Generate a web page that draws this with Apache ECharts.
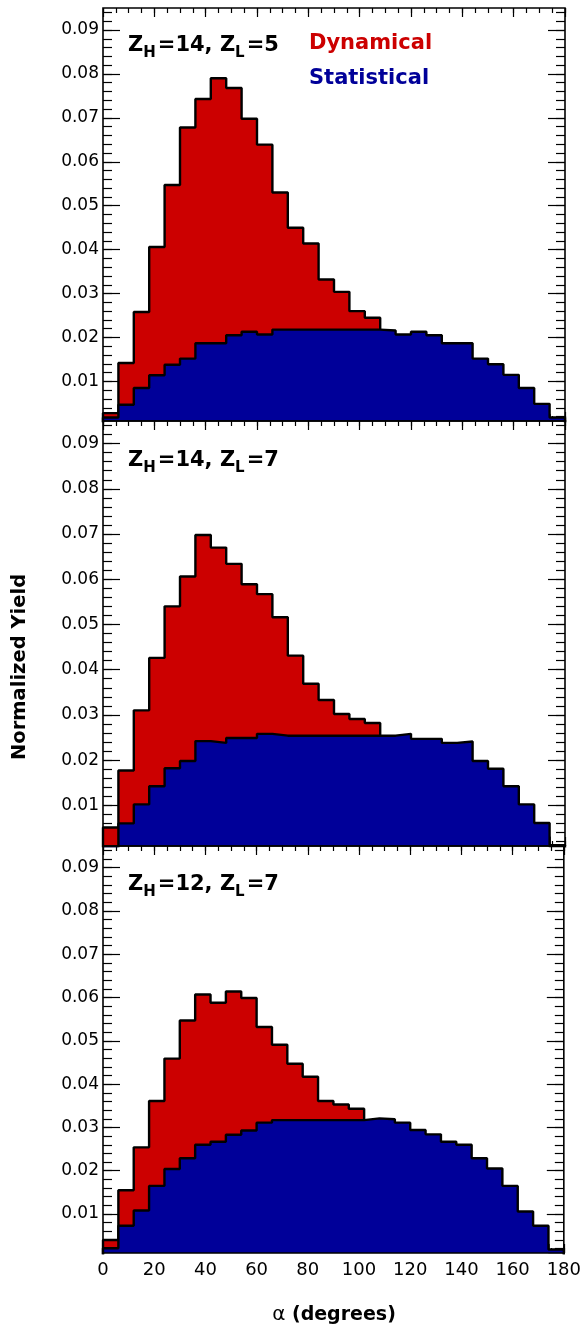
<!DOCTYPE html>
<html>
<head>
<meta charset="utf-8">
<script src="https://cdn.jsdelivr.net/npm/echarts@6/dist/echarts.min.js"></script>
<style>
html,body{margin:0;padding:0;background:#fff;}
#c{width:584px;height:1330px;}
</style>
</head>
<body>
<div id="c"></div>
<script>
// ---- data (6-degree bins, lower edges) ----
const binEdges = [0,6,12,18,24,30,36,42,48,54,60,66,72,78,84,90,96,102,108,114,120,126,132,138,144,150,156,162,168,174];
const xMax = 180;
const yMin = 0.001, yMax = 0.095;
const xMajor = [0,20,40,60,80,100,120,140,160,180];
const yMajor = [0.01,0.02,0.03,0.04,0.05,0.06,0.07,0.08,0.09];
const yLabels = ['0.01','0.02','0.03','0.04','0.05','0.06','0.07','0.08','0.09'];

const panelTitles = [['14','5'],['14','7'],['12','7']];

// Panel 1: Z_H=14, Z_L=5
const dyn1  = [0.0028,0.0142,0.0258,0.0406,0.0547,0.0678,0.0743,0.0790,0.0768,0.0698,0.0639,0.0530,0.0450,0.0414,0.0332,0.0304,0.0260,0.0245,0.0195,0.0170,0.0150,0.0130,0.0110,0.0090,0.0075,0.0060,0.0045,0.0035,0.0025,0.0012];
const stat1 = [0.0018,0.0047,0.0085,0.0114,0.0138,0.0152,0.0187,0.0187,0.0205,0.0213,0.0207,0.0218,0.0218,0.0218,0.0218,0.0218,0.0218,0.0218,0.0216,0.0207,0.0213,0.0205,0.0187,0.0187,0.0152,0.0139,0.0115,0.0085,0.0049,0.0018];
// Panel 2: Z_H=14, Z_L=7
const dyn2  = [0.0051,0.0177,0.0310,0.0426,0.0540,0.0606,0.0698,0.0670,0.0634,0.0589,0.0567,0.0516,0.0431,0.0369,0.0333,0.0302,0.0291,0.0282,0.0240,0.0210,0.0190,0.0170,0.0150,0.0130,0.0110,0.0090,0.0070,0.0050,0.0030,0.0008];
const stat2 = [0.0005,0.0060,0.0102,0.0142,0.0182,0.0198,0.0242,0.0238,0.0249,0.0249,0.0258,0.0254,0.0254,0.0254,0.0254,0.0254,0.0254,0.0254,0.0254,0.0258,0.0247,0.0247,0.0238,0.0241,0.0198,0.0181,0.0142,0.0102,0.0061,0.0012];
// Panel 3: Z_H=12, Z_L=7
const dyn3  = [0.0040,0.0155,0.0254,0.0361,0.0459,0.0547,0.0607,0.0588,0.0614,0.0599,0.0532,0.0491,0.0447,0.0417,0.0361,0.0353,0.0343,0.0300,0.0280,0.0260,0.0230,0.0210,0.0180,0.0160,0.0130,0.0110,0.0080,0.0050,0.0030,0.0012];
const stat3 = [0.0021,0.0073,0.0108,0.0165,0.0204,0.0229,0.0260,0.0267,0.0283,0.0293,0.0311,0.0317,0.0317,0.0317,0.0317,0.0317,0.0317,0.0321,0.0319,0.0311,0.0294,0.0284,0.0267,0.0260,0.0229,0.0205,0.0165,0.0106,0.0073,0.0018];

const dynSets = [dyn1, dyn2, dyn3];
const statSets = [stat1, stat2, stat3];

// ---- styling ----
const F = 'DejaVu Sans';
const RED = '#cc0000', BLUE = '#000099';
const grids = [
  {left:103, width:462, top:8, height:413},
  {left:103, width:462, top:421, height:425},
  {left:103, width:462, top:846, height:407}
];

const xMinor = []; for (let v = 0; v <= xMax; v += 5) xMinor.push(v);
const yMinor = []; for (let k = 1; k <= 47; k++) yMinor.push(+(k*0.002).toFixed(3));

function histPoints(vals){
  const pts = [[0, 0]];
  vals.forEach((v,i)=>pts.push([binEdges[i], v]));
  pts.push([xMax, vals[vals.length-1]]);
  pts.push([xMax, 0]);
  return pts;
}

const tickLine = {color:'#000', width:1.2};
const xAxes = [], yAxes = [], series = [];
grids.forEach((g, gi) => {
  const base = {gridIndex:gi, type:'value', min:0, max:xMax, splitLine:{show:false}, axisLine:{show:false, onZero:false}};
  xAxes.push(Object.assign({}, base, {position:'bottom',
    axisTick:{show:true, inside:true, length:9, customValues:xMajor, lineStyle:tickLine},
    axisLabel:{show: gi===2, customValues:xMajor, margin:8, fontSize:18, fontFamily:F, color:'#000', showMinLabel:true, showMaxLabel:true}}));
  xAxes.push(Object.assign({}, base, {position:'bottom',
    axisTick:{show:true, inside:true, length:5, customValues:xMinor, lineStyle:tickLine}, axisLabel:{show:false}}));
  xAxes.push(Object.assign({}, base, {position:'top',
    axisTick:{show:true, inside:true, length:9, customValues:xMajor, lineStyle:tickLine}, axisLabel:{show:false}}));
  xAxes.push(Object.assign({}, base, {position:'top',
    axisTick:{show:true, inside:true, length:5, customValues:xMinor, lineStyle:tickLine}, axisLabel:{show:false}}));

  const ybase = {gridIndex:gi, type:'value', min:yMin, max:yMax, splitLine:{show:false}, axisLine:{show:false, onZero:false}};
  yAxes.push(Object.assign({}, ybase, {position:'left',
    axisTick:{show:true, inside:true, length:17, customValues:yMajor, lineStyle:tickLine},
    axisLabel:{show:true, customValues:yMajor, margin:4, fontSize:17, fontFamily:F, color:'#000', padding:[3,0,0,0],
      formatter:(v)=>{ const i = yMajor.findIndex(m=>Math.abs(m-v)<1e-9); return i>=0 ? yLabels[i] : ''; }}}));
  yAxes.push(Object.assign({}, ybase, {position:'left',
    axisTick:{show:true, inside:true, length:9, customValues:yMinor, lineStyle:tickLine}, axisLabel:{show:false}}));
  yAxes.push(Object.assign({}, ybase, {position:'right',
    axisTick:{show:true, inside:true, length:17, customValues:yMajor, lineStyle:tickLine}, axisLabel:{show:false}}));
  yAxes.push(Object.assign({}, ybase, {position:'right',
    axisTick:{show:true, inside:true, length:9, customValues:yMinor, lineStyle:tickLine}, axisLabel:{show:false}}));

  series.push({type:'line', name:'Dynamical', xAxisIndex:gi*4, yAxisIndex:gi*4, step:'end', showSymbol:false, symbol:'none',
    data:histPoints(dynSets[gi]), lineStyle:{color:'#000', width:2.4}, areaStyle:{color:RED, opacity:1, origin:'start'}, z:2, clip:true, animation:false});
  series.push({type:'line', name:'Statistical', xAxisIndex:gi*4, yAxisIndex:gi*4, step:'end', showSymbol:false, symbol:'none',
    data:histPoints(statSets[gi]), lineStyle:{color:'#000', width:2.4}, areaStyle:{color:BLUE, opacity:1, origin:'start'}, z:3, clip:true, animation:false});
});

const gridOpts = grids.map(g => Object.assign({}, g, {show:true, borderColor:'#000', borderWidth:1.6, backgroundColor:'transparent', z:10, containLabel:false}));

const richMain = {fontSize:21, fontWeight:'bold', fontFamily:F, fill:'#000', lineHeight:30, verticalAlign:'middle'};
const richSub = {fontSize:15, fontWeight:'bold', fontFamily:F, fill:'#000', lineHeight:10, verticalAlign:'bottom', padding:[0,2,0,0]};
const titleTops = [35, 450, 874];
const graphics = [];
panelTitles.forEach((t, i) => {
  graphics.push({type:'text', left:128, top:titleTops[i], z:20,
    style:{text:'{m|Z}{s|H}{m|=' + t[0] + ', Z}{s|L}{m|=' + t[1] + '}', rich:{m:richMain, s:richSub}}});
});
graphics.push({type:'text', left:309, top:33, z:20, style:{text:'Dynamical', fontSize:21, fontWeight:'bold', fontFamily:F, fill:RED}});
graphics.push({type:'text', left:309, top:68, z:20, style:{text:'Statistical', fontSize:21, fontWeight:'bold', fontFamily:F, fill:BLUE}});
graphics.push({type:'text', x:20, y:667, rotation:Math.PI/2, z:20,
  style:{text:'Normalized Yield', fontSize:19.5, fontWeight:'bold', fontFamily:F, fill:'#000', align:'center', verticalAlign:'middle'}});
graphics.push({type:'text', x:334, y:1315, z:20,
  style:{text:'{a|α}{b| (degrees)}', align:'center', verticalAlign:'middle',
    rich:{a:{fontSize:20, fontFamily:F, fill:'#000'}, b:{fontSize:19, fontWeight:'bold', fontFamily:F, fill:'#000'}}}});

const chart = echarts.init(document.getElementById('c'), null, {renderer:'canvas'});
chart.setOption({
  animation:false,
  backgroundColor:'#fff',
  grid: gridOpts,
  xAxis: xAxes,
  yAxis: yAxes,
  series: series,
  graphic: graphics
});
</script>
</body>
</html>
